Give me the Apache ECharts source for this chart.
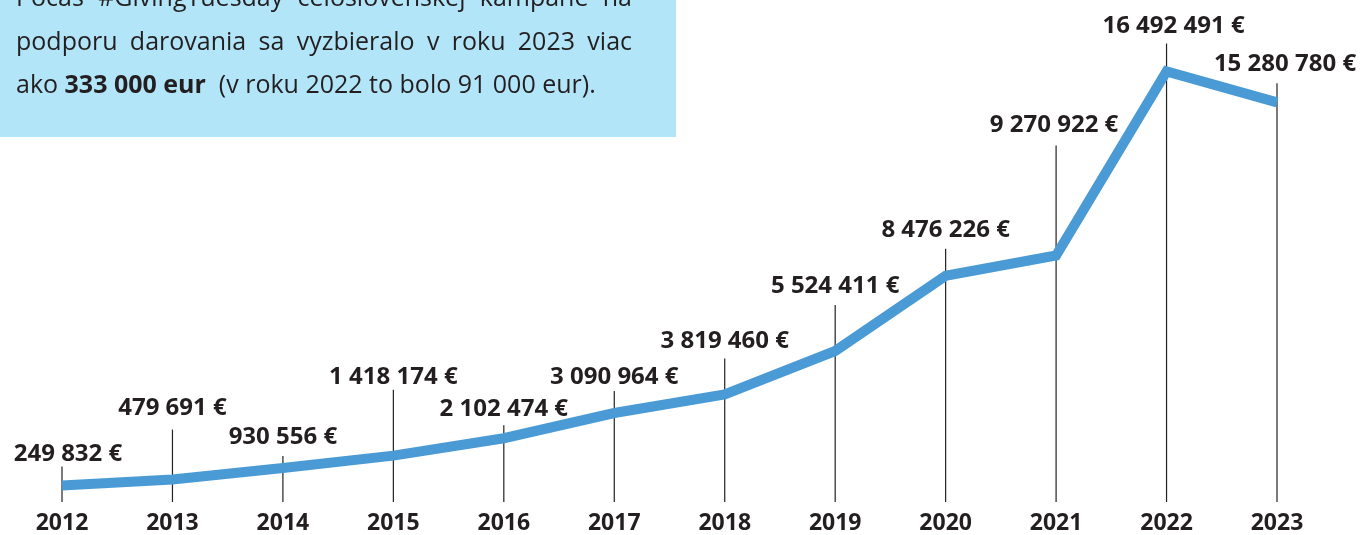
<!DOCTYPE html>
<html>
<head>
<meta charset="utf-8">
<script src="https://cdn.jsdelivr.net/npm/echarts@6/dist/echarts.min.js"></script>
<style>
  html, body { margin: 0; padding: 0; background: #fff; }
  #chart { width: 1360px; height: 535px; }
</style>
</head>
<body>
<div id="chart"></div>
<script>
// data
const years = ['2012', '2013', '2014', '2015', '2016', '2017', '2018', '2019', '2020', '2021', '2022', '2023'];
const amounts = [249832, 479691, 930556, 1418174, 2102474, 3090964, 3819460, 5524411, 8476226, 9270922, 16492491, 15280780];

// label layout: leader height above the line, gap label->leader, sideways nudge (px)
const leaderLift = [19, 50, 12, 66, 13, 22, 36, 46, 27, 110, 28, 19];
const labelGap = [12, 21, 19, 13, 16, 14, 17, 19, 19, 20, 17, 19];
const labelShift = [6, 0, 0, 0, 0, 0, 0, 0, 0, -2, 7, 8];

const introLines = [
  'Počas #GivingTuesday celoslovenskej kampane na',
  'podporu darovania sa vyzbieralo v roku 2023 viac'
];

const FONT = '"Open Sans", "Noto Sans", sans-serif';
const INK = '#231f20';
const Y_MIN = -400000;
const INTRO_SIZE = 25;

function euro(v) {
  return String(v).replace(/\B(?=(\d{3})+(?!\d))/g, ' ') + ' €';
}

// justify a line of words over a given width
const ctx = document.createElement('canvas').getContext('2d');
function justified(text, x, y, width, size) {
  ctx.font = size + 'px "Open Sans"';
  const words = text.split(' ');
  const widths = words.map(w => ctx.measureText(w).width);
  const gap = (width - widths.reduce((a, b) => a + b, 0)) / (words.length - 1);
  let cx = x;
  return words.map((w, i) => {
    const el = {
      type: 'text', x: cx, y: y,
      style: { text: w, fontFamily: FONT, fontSize: size, fill: INK, verticalAlign: 'middle' }
    };
    cx += widths[i] + gap;
    return el;
  });
}

const chart = echarts.init(document.getElementById('chart'));

const graphics = [
  { type: 'rect', shape: { x: 0, y: 0, width: 676, height: 137 }, style: { fill: '#b3e5f9' }, z: 0 }
];
introLines.forEach((l, i) => {
  graphics.push(...justified(l, 16, -1 + i * 44, 616, INTRO_SIZE));
});
graphics.push({
  type: 'text', x: 16, y: 86,
  style: {
    text: 'ako {b|333 000 eur}  (v roku 2022 to bolo 91 000 eur).',
    fontFamily: FONT, fontSize: INTRO_SIZE, fill: INK, verticalAlign: 'middle',
    rich: { b: { fontFamily: FONT, fontSize: INTRO_SIZE, fontWeight: 'bold', fill: INK } }
  }
});

const option = {
  backgroundColor: '#ffffff',
  animation: false,
  graphic: graphics,
  grid: { left: 62, right: 83, top: 33, bottom: 31 },
  xAxis: {
    type: 'category',
    data: years,
    boundaryGap: false,
    axisLine: { show: false },
    axisTick: { show: false },
    axisLabel: {
      margin: 10,
      color: INK,
      fontFamily: FONT,
      fontWeight: 'bold',
      fontSize: 23
    }
  },
  yAxis: {
    type: 'value',
    min: Y_MIN,
    max: 18000000,
    show: false,
    splitLine: { show: false }
  },
  series: [
    {
      type: 'custom',
      z: 1,
      data: amounts.map((v, i) => [i, v]),
      renderItem: function (params, api) {
        const i = api.value(0);
        const pt = api.coord([i, api.value(1)]);
        const base = api.coord([i, Y_MIN])[1];
        const top = pt[1] - leaderLift[i];
        return {
          type: 'group',
          children: [
            {
              type: 'line',
              shape: { x1: pt[0], y1: base, x2: pt[0], y2: top },
              style: { stroke: '#222', lineWidth: 1.2 }
            },
            {
              type: 'text',
              x: pt[0] + labelShift[i], y: top - labelGap[i],
              style: {
                text: euro(api.value(1)),
                fontFamily: FONT, fontSize: 24, fontWeight: 'bold',
                fill: INK, align: 'center', verticalAlign: 'middle'
              }
            }
          ]
        };
      }
    },
    {
      type: 'line',
      z: 3,
      data: amounts,
      showSymbol: false,
      lineStyle: { color: '#4a9bd5', width: 10, join: 'miter', cap: 'butt' }
    }
  ]
};

chart.setOption(option);
</script>
</body>
</html>
